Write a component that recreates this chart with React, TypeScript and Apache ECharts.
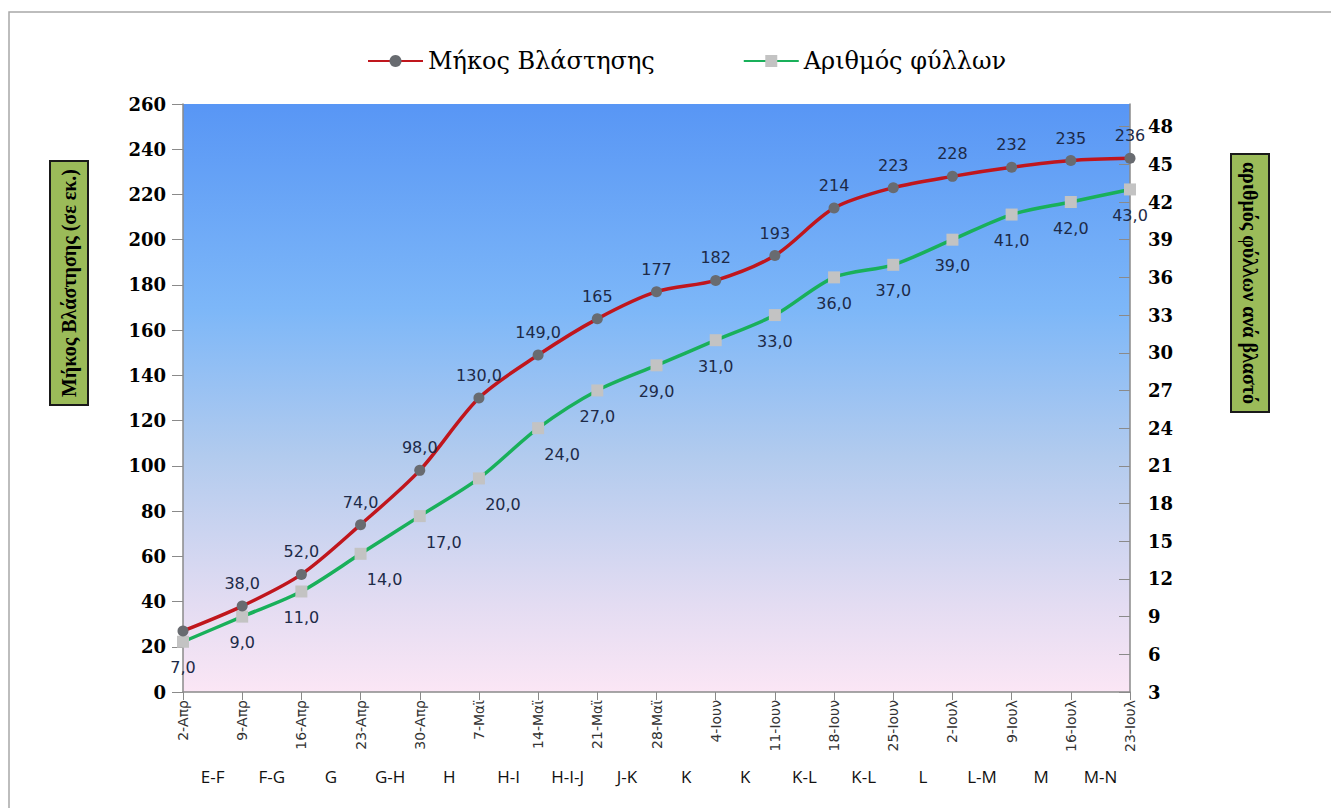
import React, { useEffect, useRef } from 'react';
import * as echarts from 'echarts';

const dates = ['2-Απρ', '9-Απρ', '16-Απρ', '23-Απρ', '30-Απρ', '7-Μαϊ', '14-Μαϊ', '21-Μαϊ', '28-Μαϊ',
  '4-Ιουν', '11-Ιουν', '18-Ιουν', '25-Ιουν', '2-Ιουλ', '9-Ιουλ', '16-Ιουλ', '23-Ιουλ'];
const stages = ['E-F', 'F-G', 'G', 'G-H', 'H', 'H-I', 'H-I-J', 'J-K', 'K', 'K', 'K-L', 'K-L', 'L', 'L-M', 'M', 'M-N'];
const shootLength = [27, 38, 52, 74, 98, 130, 149, 165, 177, 182, 193, 214, 223, 228, 232, 235, 236];
const leafCount = [7, 9, 11, 14, 17, 20, 24, 27, 29, 31, 33, 36, 37, 39, 41, 42, 43];

const comma = (v: number) => v.toFixed(1).replace('.', ',');
const labelColor = '#1d2a48';

const App: React.FC = () => {
  const chartRef = useRef<HTMLDivElement>(null);

  useEffect(() => {
    if (!chartRef.current) return;
    const chart = echarts.init(chartRef.current, null, { renderer: 'svg' });

    const redData = shootLength.map((v, i) => ({
      value: v,
      label: { show: i > 0 }
    }));
    // a few leaf labels sit to the right of their point in the original
    const greenData = leafCount.map((v, i) => ({
      value: v,
      label: i >= 3 && i <= 6 ? { offset: [24, 0] } : {}
    }));

    const option: any = {
      animation: false,
      backgroundColor: '#fff',
      legend: {
        top: 44,
        left: 362,
        itemWidth: 55,
        itemHeight: 15,
        itemGap: 88,
        textStyle: { fontFamily: 'DejaVu Serif', fontSize: 24, color: '#000' },
        data: ['Μήκος Βλάστησης', 'Αριθμός φύλλων']
      },
      grid: {
        left: 183,
        right: 201,
        top: 104,
        bottom: 116,
        show: true,
        borderWidth: 0,
        backgroundColor: new echarts.graphic.LinearGradient(0, 0, 0, 1, [
          { offset: 0, color: '#5896f5' },
          { offset: 0.35, color: '#7db7f8' },
          { offset: 0.6, color: '#b2cbee' },
          { offset: 0.85, color: '#e3dcf2' },
          { offset: 1, color: '#fbe6f5' }
        ])
      },
      xAxis: [
        {
          type: 'category',
          data: dates,
          boundaryGap: false,
          axisLine: { lineStyle: { color: '#8a8a8a', width: 1.5 } },
          axisTick: { show: true, length: 8, lineStyle: { color: '#8a8a8a' } },
          axisLabel: {
            rotate: 90,
            interval: 0,
            margin: 8,
            fontFamily: 'DejaVu Sans',
            fontSize: 14,
            color: '#333'
          }
        },
        {
          type: 'category',
          data: stages,
          position: 'bottom',
          offset: 70,
          boundaryGap: true,
          axisLine: { show: false },
          axisTick: { show: false },
          axisLabel: {
            interval: 0,
            margin: 6,
            fontFamily: 'Open Sans',
            fontSize: 17,
            color: '#111'
          }
        }
      ],
      yAxis: [
        {
          type: 'value',
          min: 0,
          max: 260,
          interval: 20,
          axisLine: { show: true, lineStyle: { color: '#8a8a8a', width: 1.5 } },
          axisTick: { show: true, length: 11, lineStyle: { color: '#8a8a8a' } },
          splitLine: { show: false },
          axisLabel: {
            margin: 17,
            fontFamily: 'DejaVu Serif',
            fontWeight: 'bold',
            fontSize: 18,
            color: '#000'
          }
        },
        {
          type: 'value',
          min: 3,
          max: 49.8,
          interval: 3,
          position: 'right',
          axisLine: { show: true, lineStyle: { color: '#8a8a8a', width: 1.5 } },
          axisTick: { show: true, inside: true, length: 11, lineStyle: { color: '#8a8a8a' } },
          splitLine: { show: false },
          axisLabel: {
            margin: 18,
            showMaxLabel: false,
            fontFamily: 'DejaVu Serif',
            fontWeight: 'bold',
            fontSize: 18,
            color: '#000'
          }
        }
      ],
      series: [
        {
          name: 'Μήκος Βλάστησης',
          type: 'line',
          yAxisIndex: 0,
          smooth: 0.3,
          symbol: 'circle',
          symbolSize: 11,
          lineStyle: { color: '#c0161d', width: 3.5 },
          itemStyle: { color: '#686b70' },
          label: {
            show: true,
            position: 'top',
            distance: 9,
            fontFamily: 'DejaVu Sans',
            fontSize: 16,
            color: labelColor,
            formatter: (p: any) => (p.dataIndex < 7 ? comma(p.value) : String(p.value))
          },
          data: redData,
          z: 3
        },
        {
          name: 'Αριθμός φύλλων',
          type: 'line',
          yAxisIndex: 1,
          smooth: 0.3,
          symbol: 'rect',
          symbolSize: 12,
          lineStyle: { color: '#19b05a', width: 3.5 },
          itemStyle: { color: '#c3c3c3' },
          label: {
            show: true,
            position: 'bottom',
            distance: 12,
            fontFamily: 'DejaVu Sans',
            fontSize: 16,
            color: labelColor,
            formatter: (p: any) => comma(p.value)
          },
          data: greenData,
          z: 2
        }
      ],
      graphic: [
        {
          type: 'rect',
          shape: { x: 9, y: 12, width: 1400, height: 900 },
          style: { fill: 'none', stroke: '#a8a8a8', lineWidth: 1.5 },
          silent: true,
          z: -10
        },
        {
          type: 'text',
          x: 69,
          y: 283,
          rotation: Math.PI / 2,
          style: {
            text: 'Μήκος Βλάστησης (σε εκ.)',
            fontFamily: 'Liberation Serif',
            fontWeight: 'bold',
            fontSize: 20,
            fill: '#000',
            align: 'center',
            verticalAlign: 'middle',
            backgroundColor: '#9bbb59',
            borderColor: '#1a1a1a',
            borderWidth: 2,
            padding: [9, 7, 7, 7]
          }
        },
        {
          type: 'text',
          x: 1250,
          y: 283,
          rotation: -Math.PI / 2,
          style: {
            text: 'αριθμός φύλλων ανά βλαστό',
            fontFamily: 'Liberation Serif',
            fontWeight: 'bold',
            fontSize: 20,
            fill: '#000',
            align: 'center',
            verticalAlign: 'middle',
            backgroundColor: '#9bbb59',
            borderColor: '#1a1a1a',
            borderWidth: 2,
            padding: [9, 7, 7, 7]
          }
        }
      ]
    };

    chart.setOption(option);
    return () => {
      chart.dispose();
    };
  }, []);

  return (
    <div
      ref={chartRef}
      style={{ position: 'fixed', left: 0, top: 0, width: 1331, height: 808 }}
    />
  );
};

export default App;
